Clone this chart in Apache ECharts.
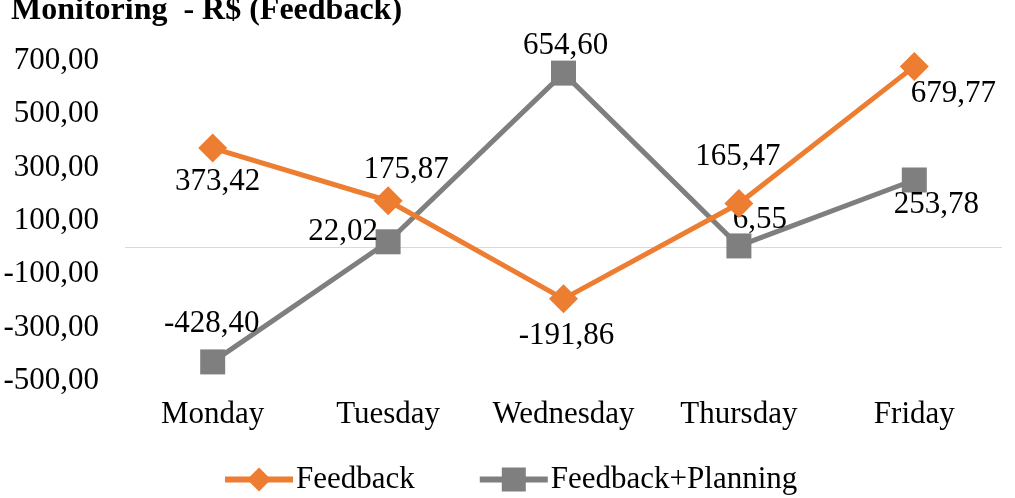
<!DOCTYPE html>
<html>
<head>
<meta charset="utf-8">
<script src="https://cdn.jsdelivr.net/npm/echarts@6/dist/echarts.min.js"></script>
<style>
html,body{margin:0;padding:0;background:#fff;}
#c{width:1015px;height:498px;}
</style>
</head>
<body>
<div id="c"></div>
<script>
const titleText = 'Monitoring  - R$ (Feedback)';
const categories = ['Monday', 'Tuesday', 'Wednesday', 'Thursday', 'Friday'];
const feedback = [373.42, 175.87, -191.86, 165.47, 679.77];
const feedbackPlanning = [-428.40, 22.02, 654.60, 6.55, 253.78];
const yTicks = [-500, -300, -100, 100, 300, 500, 700];
// label offsets (px) relative to each point
const feedbackLabelOffsets = [[5, 34], [18, -31], [3, 37], [-1, -47], [39, 27]];
const planningLabelOffsets = [[-1, -38], [-45, -10], [2, -27], [21, -26], [22, 25]];

const FONT = '"Liberation Serif", "Times New Roman", serif';
const fmt = v => v.toFixed(2).replace('.', ',');

function makeData(values, offsets) {
  return values.map((v, i) => ({
    value: v,
    label: { offset: offsets[i] }
  }));
}

const chart = echarts.init(document.getElementById('c'), null, { renderer: 'canvas' });
chart.setOption({
  animation: false,
  backgroundColor: '#ffffff',
  title: {
    text: titleText,
    left: 11,
    top: -5,
    padding: 0,
    textStyle: { fontFamily: FONT, fontSize: 32, fontWeight: 'bold', color: '#000' }
  },
  legend: {
    left: 222,
    top: 464,
    itemWidth: 68,
    itemHeight: 30,
    itemGap: 62,
    padding: 0,
    lineStyle: { width: 6 },
    textStyle: { fontFamily: FONT, fontSize: 31, color: '#000', padding: [0, 0, 0, -2] },
    data: ['Feedback', 'Feedback+Planning']
  },
  grid: { left: 125, top: 61, width: 877, height: 320, containLabel: false },
  xAxis: {
    type: 'category',
    data: categories,
    boundaryGap: true,
    axisLine: { show: false },
    axisTick: { show: false },
    axisLabel: { interval: 0, fontFamily: FONT, fontSize: 31, color: '#000', margin: 18 },
    splitLine: { show: false }
  },
  yAxis: {
    type: 'value',
    min: yTicks[0],
    max: yTicks[yTicks.length - 1],
    interval: 200,
    axisLine: { show: false },
    axisTick: { show: false },
    splitLine: { show: false },
    axisLabel: {
      fontFamily: FONT, fontSize: 31, color: '#000', margin: 26,
      formatter: v => fmt(v)
    }
  },
  series: [
    {
      name: 'Feedback',
      type: 'line',
      data: makeData(feedback, feedbackLabelOffsets),
      symbol: 'diamond',
      symbolSize: 29,
      z: 3,
      itemStyle: { color: '#ED7D31' },
      lineStyle: { color: '#ED7D31', width: 5 },
      label: {
        show: true, position: 'inside',
        fontFamily: FONT, fontSize: 31, color: '#000',
        formatter: p => fmt(p.value)
      },
      markLine: {
        silent: true,
        symbol: ['none', 'none'],
        label: { show: false },
        lineStyle: { color: '#d9d9d9', width: 1, type: 'solid' },
        data: [{ yAxis: 0 }],
        z: 1
      }
    },
    {
      name: 'Feedback+Planning',
      type: 'line',
      data: makeData(feedbackPlanning, planningLabelOffsets),
      symbol: 'rect',
      symbolSize: 25,
      z: 2,
      itemStyle: { color: '#7F7F7F' },
      lineStyle: { color: '#7F7F7F', width: 5 },
      label: {
        show: true, position: 'inside',
        fontFamily: FONT, fontSize: 31, color: '#000',
        formatter: p => fmt(p.value)
      }
    }
  ]
});
</script>
</body>
</html>
